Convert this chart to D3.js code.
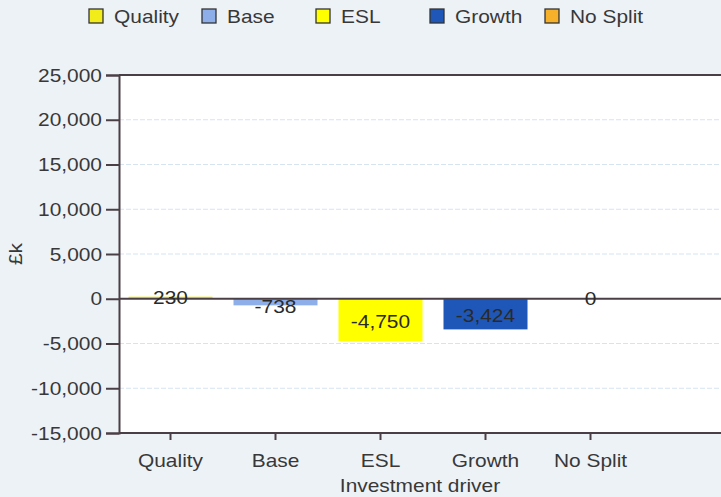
<!DOCTYPE html>
<html><head><meta charset="utf-8">
<script src="https://cdn.jsdelivr.net/npm/d3@7"></script>
<style>
html,body{margin:0;padding:0;background:#edf2f7;}
svg{display:block;font-family:"Liberation Sans",Arial,sans-serif;}
</style></head>
<body>
<svg id="c" width="721" height="497"></svg>
<script>
const categories = ["Quality","Base","ESL","Growth","No Split"];
const values = [230, -738, -4750, -3424, 0];
const colors = ["#f2ec1a","#8eaeea","#ffff00","#1f57b8","#f7b02a"];
const yTicks = [25000,20000,15000,10000,5000,0,-5000,-10000,-15000];

const svg = d3.select("#c");
const pL = 119, pR = 721, pT = 75, pB = 433;
const x = d3.scaleBand().domain(categories).range([118, 643]).paddingInner(0.2).paddingOuter(0.1);
const y = d3.scaleLinear().domain([-15000, 25000]).range([pB, pT]);
const fmt = v => d3.format(",")(v).replace("\u2212", "-");
const FS = 19, STRETCH = 1.1, TXT = "#383838";

function stretch(sel) {
  sel.each(function () {
    const w = this.getComputedTextLength();
    if (w > 0) d3.select(this).attr("textLength", w * STRETCH).attr("lengthAdjust", "spacingAndGlyphs");
  });
}

svg.append("rect").attr("x", pL).attr("y", pT).attr("width", pR - pL + 2).attr("height", pB - pT).attr("fill", "#ffffff");

// grid
svg.append("g").selectAll("line").data(yTicks.filter(d => d !== 0 && d !== 25000 && d !== -15000)).join("line")
  .attr("x1", pL).attr("x2", pR).attr("y1", d => y(d)).attr("y2", d => y(d))
  .attr("stroke", "#d6e4f2").attr("stroke-width", 1.2).attr("stroke-dasharray", "5,2");

// bars
svg.append("g").selectAll("rect").data(categories).join("rect")
  .attr("x", d => x(d)).attr("width", x.bandwidth())
  .attr("y", (d, i) => y(Math.max(0, values[i])))
  .attr("height", (d, i) => Math.abs(y(values[i]) - y(0)))
  .attr("fill", (d, i) => colors[i]);

// frame lines
svg.append("line").attr("x1", pL).attr("x2", pR).attr("y1", pT).attr("y2", pT).attr("stroke", "#4a3f45").attr("stroke-width", 2);
svg.append("line").attr("x1", pL).attr("x2", pR).attr("y1", y(0)).attr("y2", y(0)).attr("stroke", "#4a3f45").attr("stroke-width", 2);

// y axis
const ya = svg.append("g").attr("transform", `translate(${pL},0)`)
  .call(d3.axisLeft(y).tickValues(yTicks).tickFormat(fmt).tickSize(13).tickPadding(4));
ya.select(".domain").attr("stroke", "#4a3f45").attr("stroke-width", 2);
ya.selectAll(".tick line").attr("stroke", "#4a3f45").attr("stroke-width", 2);
ya.selectAll("text").attr("font-size", FS).attr("fill", TXT).attr("font-family", "Liberation Sans, Arial, sans-serif").call(stretch);

// x axis
const xa = svg.append("g").attr("transform", `translate(0,${pB})`)
  .call(d3.axisBottom(x).tickSize(7).tickPadding(12).tickSizeOuter(0));
xa.select(".domain").attr("d", `M${pL},0H${pR}`).attr("stroke", "#4a3f45").attr("stroke-width", 2);
xa.selectAll(".tick line").attr("stroke", "#4a3f45").attr("stroke-width", 2);
xa.selectAll("text").attr("y", 34).attr("dy", null).attr("font-size", FS).attr("fill", TXT).attr("font-family", "Liberation Sans, Arial, sans-serif").call(stretch);

// value labels
svg.append("g").selectAll("text").data(categories).join("text")
  .attr("x", d => x(d) + x.bandwidth() / 2)
  .attr("y", (d, i) => (y(values[i]) + y(0)) / 2 + (values[i] < -1000 ? 1 : (values[i] < 0 ? 4 : 0)))
  .attr("dy", "0.35em")
  .attr("text-anchor", "middle").attr("font-size", FS).attr("fill", "#2a2a2a")
  .text((d, i) => fmt(values[i])).call(stretch);

// axis titles
svg.append("text").attr("x", (pL + pR) / 2).attr("y", 492).attr("text-anchor", "middle")
  .attr("font-size", FS).attr("fill", TXT).text("Investment driver").call(stretch);
svg.append("text").attr("transform", `translate(22,${(pT + pB) / 2}) rotate(-90)`).attr("text-anchor", "middle")
  .attr("font-size", FS).attr("fill", TXT).text("£k").call(stretch);

// legend
const legX = [89, 202, 316, 430, 545];
const lg = svg.append("g").selectAll("g").data(categories).join("g")
  .attr("transform", (d, i) => `translate(${legX[i]},9)`);
lg.append("rect").attr("width", 14).attr("height", 14).attr("fill", (d, i) => colors[i])
  .attr("stroke", "#333").attr("stroke-width", 1.3);
lg.append("text").attr("x", 25).attr("y", 14).attr("font-size", FS).attr("fill", TXT).text(d => d).call(stretch);
</script>
</body></html>
